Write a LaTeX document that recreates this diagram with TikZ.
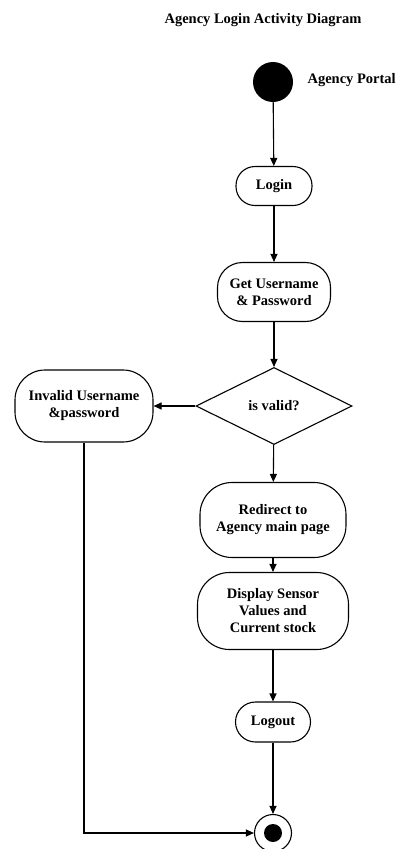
\documentclass[tikz,border=0pt]{standalone}
\usepackage{fontspec}
\setmainfont{Liberation Serif}
\usetikzlibrary{arrows.meta,shapes.geometric}
\begin{document}
\begin{tikzpicture}[x=1pt,y=-1pt,
  act/.style={draw,line width=1.1pt,rounded corners=#1,align=center,font=\bfseries\fontsize{14.5}{17}\selectfont,inner sep=0pt},
  arr/.style={line width=1.1pt,-{Triangle[length=8pt,width=7pt]}},
  lbl/.style={font=\bfseries\fontsize{14.5}{17}\selectfont}]
\useasboundingbox (0,0) rectangle (399,849);
\node[lbl] (title) at (263,20) {Agency Login Activity Diagram};
\node[circle,fill=black,minimum size=40pt,inner sep=0pt] (start) at (273,82) {};
\node[lbl,anchor=west] (portal) at (304,80) {Agency Portal};
\node[act=19pt,minimum width=76pt,minimum height=39pt] (login) at (274,186) {Login};
\node[act=25pt,minimum width=113pt,minimum height=59pt] (get) at (274,292) {Get Username\\\& Password};
\node[draw,line width=1.1pt,diamond,aspect=2,minimum width=156pt,minimum height=77pt,inner sep=0pt,font=\bfseries\fontsize{14.5}{17}\selectfont] (valid) at (274,406) {is valid?};
\node[act=30pt,minimum width=138pt,minimum height=72pt] (invalid) at (84,406) {Invalid Username\\\&password};
\node[act=32pt,minimum width=146pt,minimum height=75pt] (redir) at (273,520) {Redirect to\\Agency main page};
\node[act=32pt,minimum width=151pt,minimum height=77pt] (disp) at (273,611) {Display Sensor\\Values and\\Current stock};
\node[act=20pt,minimum width=75pt,minimum height=40pt] (logout) at (273,722) {Logout};
\node[circle,draw,line width=1.1pt,minimum size=37pt,inner sep=0pt] (final) at (273,833) {};
\node[circle,fill=black,minimum size=18pt,inner sep=0pt] (finalin) at (273,833) {};
\draw[arr] (start) -- (login);
\draw[arr] (login) -- (get);
\draw[arr] (get) -- (valid);
\draw[arr] (valid) -- (invalid);
\draw[arr] (valid) -- (redir);
\draw[arr] (redir) -- (disp);
\draw[arr] (disp) -- (logout);
\draw[arr] (logout) -- (final);
\draw[arr] (invalid.south) |- (final.west);
\end{tikzpicture}
\end{document}
